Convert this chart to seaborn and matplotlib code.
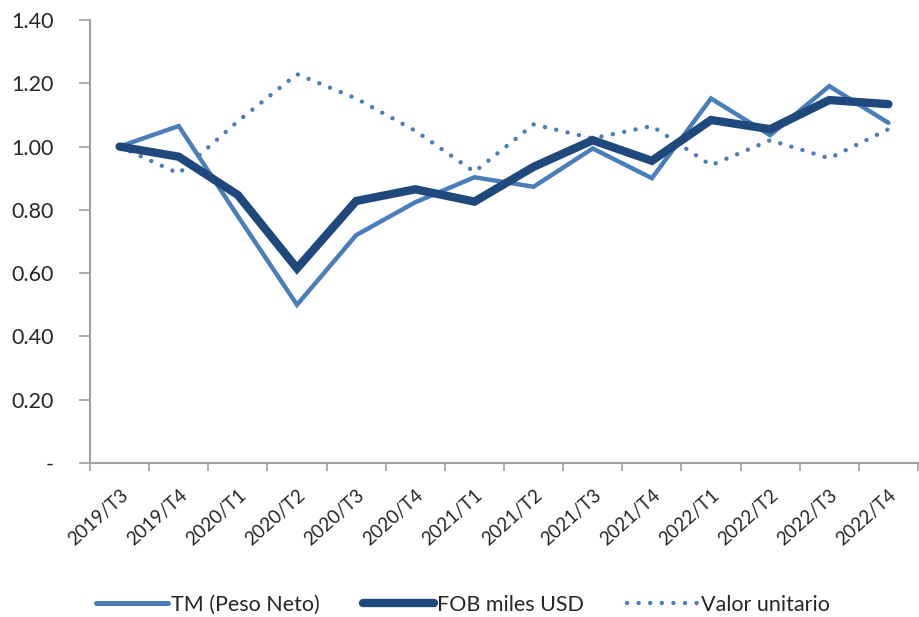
import numpy as np
import pandas as pd
import seaborn as sns
import matplotlib.pyplot as plt
from matplotlib.lines import Line2D

# data
periodos = ["2019/T3", "2019/T4", "2020/T1", "2020/T2", "2020/T3", "2020/T4", "2021/T1",
            "2021/T2", "2021/T3", "2021/T4", "2022/T1", "2022/T2", "2022/T3", "2022/T4"]
tm_peso_neto = [1.00, 1.065, 0.78, 0.50, 0.72, 0.824, 0.903,
                0.873, 0.994, 0.90, 1.152, 1.036, 1.191, 1.075]
fob_miles_usd = [1.00, 0.968, 0.847, 0.615, 0.828, 0.865, 0.826,
                 0.936, 1.02, 0.955, 1.084, 1.055, 1.147, 1.134]
valor_unitario = [1.00, 0.915, 1.08, 1.229, 1.152, 1.05, 0.92,
                  1.07, 1.026, 1.065, 0.941, 1.02, 0.963, 1.055]

light = "#4A7EBB"
dark = "#1F497D"

sns.set_style("white")
plt.rcParams["font.family"] = ["Lato", "DejaVu Sans"]

df = pd.DataFrame({"periodo": periodos,
                   "TM (Peso Neto)": tm_peso_neto,
                   "FOB miles USD": fob_miles_usd,
                   "Valor unitario": valor_unitario})
df["x"] = np.arange(len(periodos))

fig = plt.figure(figsize=(9.19, 6.17), dpi=100)
ax = fig.add_axes([90 / 919, 1 - 463 / 617, 828 / 919, 443 / 617])

sns.lineplot(data=df, x="x", y="Valor unitario", ax=ax, color=light, lw=3.2,
             linestyle=(0, (0.01, 2.6)), dash_capstyle="round")
sns.lineplot(data=df, x="x", y="TM (Peso Neto)", ax=ax, color=light, lw=3.2,
             solid_joinstyle="miter")
sns.lineplot(data=df, x="x", y="FOB miles USD", ax=ax, color=dark, lw=6,
             solid_capstyle="round", solid_joinstyle="miter")

ax.set_xlim(-0.5, len(periodos) - 0.5)
ax.set_ylim(0, 1.4)
ax.set_xlabel("")
ax.set_ylabel("")

# category labels centred, tick marks at boundaries
ax.set_xticks(np.arange(-0.5, len(periodos), 1.0))
ax.set_xticklabels([])
ax.set_xticks(df["x"], minor=True)
ax.set_xticklabels(periodos, minor=True, rotation=42, ha="right",
                   rotation_mode="anchor", fontsize=13.5)
ax.tick_params(axis="x", which="major", direction="out", length=6,
               width=1.2, color="#A0A0A0", bottom=True)
ax.tick_params(axis="x", which="minor", length=0, pad=17)

yt = np.arange(0, 1.41, 0.2)
ax.set_yticks(yt)
ax.set_yticklabels(["-" if v == 0 else f"{v:.2f}" for v in yt], fontsize=15.5)
ax.tick_params(axis="y", direction="out", length=8, width=1.2,
               color="#A0A0A0", left=True, pad=18)

for s in ["top", "right"]:
    ax.spines[s].set_visible(False)
for s in ["left", "bottom"]:
    ax.spines[s].set_color("#A0A0A0")
    ax.spines[s].set_linewidth(1.5)

handles = [Line2D([], [], color=light, lw=3.6, solid_capstyle="round"),
           Line2D([], [], color=dark, lw=6, solid_capstyle="round"),
           Line2D([], [], color=light, lw=3.2, linestyle=(0, (0.01, 2.6)),
                  dash_capstyle="round")]
fig.legend(handles, ["TM (Peso Neto)", "FOB miles USD", "Valor unitario"],
           loc="center", bbox_to_anchor=(0.504, 1 - 605 / 617), ncol=3,
           frameon=False, fontsize=15.5, handlelength=3.3, handletextpad=0.15,
           columnspacing=2.0)

fig.savefig("out.png", dpi=100)
